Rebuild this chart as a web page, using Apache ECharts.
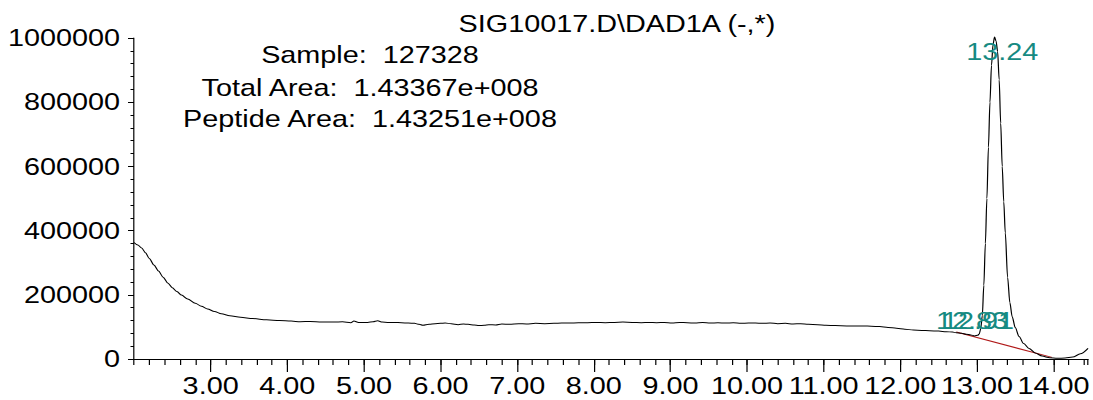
<!DOCTYPE html>
<html>
<head>
<meta charset="utf-8">
<script src="https://cdn.jsdelivr.net/npm/echarts@6.0.0/dist/echarts.min.js"></script>
<style>
html,body{margin:0;padding:0;background:#fff;overflow:hidden;}
#chart{height:400px;transform-origin:0 0;}
</style>
</head>
<body>
<div id="chart"></div>
<script>
// ---- data ----
const titleText = 'SIG10017.D\\DAD1A (-,*)';
const infoLines = ['Sample:  127328', 'Total Area:  1.43367e+008', 'Peptide Area:  1.43251e+008'];

const xTickLabels = ['3.00','4.00','5.00','6.00','7.00','8.00','9.00','10.00','11.00','12.00','13.00','14.00'];
const yTickLabels = ['0','200000','400000','600000','800000','1000000'];

const times = [
 2.00,2.05,2.10,2.15,2.20,2.26,2.32,2.38,2.44,2.50,2.56,2.62,2.70,2.80,2.88,2.96,3.05,3.14,3.25,3.39,
 3.55,3.73,3.90,4.05,4.17,4.30,4.45,4.61,4.72,4.83,4.87,4.93,5.05,5.12,5.18,5.24,5.31,5.40,5.49,5.58,
 5.66,5.72,5.77,5.85,5.93,6.00,6.06,6.14,6.23,6.30,6.36,6.44,6.50,6.57,6.63,6.72,6.80,6.90,7.02,7.12,
 7.24,7.36,7.48,7.58,7.68,7.80,7.92,8.03,8.15,8.27,8.38,8.50,8.62,8.72,8.82,8.92,9.02,9.12,9.22,9.32,
 9.42,9.52,9.62,9.72,9.82,9.92,10.02,10.11,10.20,10.30,10.40,10.50,10.60,10.70,10.80,10.92,11.03,11.15,11.30,11.42,
 11.52,11.62,11.73,11.84,11.95,12.06,12.17,12.28,12.38,12.50,12.60,12.68,12.73,12.80,12.86,12.92,12.97,13.01,13.03,13.05,
 13.07,13.09,13.11,13.13,13.15,13.17,13.19,13.21,13.23,13.25,13.27,13.29,13.31,13.33,13.35,13.37,13.40,13.43,13.46,13.50,
 13.55,13.61,13.68,13.76,13.85,13.95,14.05,14.15,14.25,14.35,14.45
];
const signal = [
 363000,355000,346000,331000,313000,293000,274000,255000,237000,222000,210000,199000,187000,174000,164000,156000,148000,141000,135000,130000,
 126000,122000,120000,118000,116000,117000,115000,115000,116000,113000,118000,114000,114000,116000,119000,115000,114000,114000,113000,112000,
 111000,108000,105000,108000,110000,111000,112000,110000,107000,109000,108000,106000,104000,105000,107000,106000,109000,108000,110000,109000,
 111000,110000,111000,112000,112000,113000,113000,114000,113000,114000,115000,114000,113000,114000,113000,114000,112000,114000,113000,112000,
 114000,112000,113000,112000,113000,111000,112000,112000,111000,112000,110000,111000,109000,110000,108000,107000,105000,104000,103000,103000,
 103000,102000,101000,98000,96000,93000,90000,89000,88000,87000,85000,84000,82000,80000,77000,75000,72000,74000,78000,95000,
 135000,230000,360000,500000,660000,800000,915000,980000,1003000,990000,958000,870000,735000,600000,490000,393000,255000,175000,132000,98000,
 70000,48000,33000,19000,9000,4000,2000,3000,6000,16000,33000
];

const baselineTimes = [12.73, 13.98];
const baselineValues = [84000, 5000];

const peakTimes = [12.83, 12.91, 13.24];
const peakHeights = [79000, 75000, 1000000];
const peakLabels = ['12.83', '12.91', '13.24'];

// ---- layout / style ----
const K = 1.2;                // horizontal stretch of the reference picture
const W = 1093 / K;
const el = document.getElementById('chart');
el.style.width = W + 'px';
el.style.transform = 'scaleX(' + K + ')';

const FONT = '"Liberation Sans", Arial, Helvetica, sans-serif';
const TEAL = '#168a82';
const labelOffsets = [[8 / K, -13], [8 / K, -14], [7 / K, 14]];

const curve = times.map((t, i) => [t, signal[i]]);
const baseline = baselineTimes.map((t, i) => [t, baselineValues[i]]);

const chart = echarts.init(el, null, { renderer: 'svg' });
chart.setOption({
  animation: false,
  backgroundColor: '#ffffff',
  grid: { left: 134 / K, right: 0, top: 38, bottom: 41, containLabel: false },
  xAxis: [
    {
      type: 'value', min: 2, max: 14.45, interval: 1,
      axisLine: { show: true, onZero: false, lineStyle: { color: '#000', width: 1 } },
      axisTick: { show: true, length: 13, lineStyle: { color: '#000', width: 1 } },
      axisLabel: {
        show: true, margin: 15, color: '#000', fontSize: 24, fontFamily: FONT,
        showMinLabel: false, showMaxLabel: false,
        formatter: function (v) {
          const s = v.toFixed(2);
          return xTickLabels.indexOf(s) >= 0 ? s : '';
        }
      },
      splitLine: { show: false }
    },
    {
      type: 'value', min: 2, max: 14.45, interval: 0.2, position: 'bottom',
      axisLine: { show: false, onZero: false },
      axisTick: { show: true, length: 6, lineStyle: { color: '#000', width: 1 } },
      axisLabel: { show: false },
      splitLine: { show: false }
    }
  ],
  yAxis: {
    type: 'value', min: 0, max: 1000000, interval: 200000,
    axisLine: { show: true, lineStyle: { color: '#000', width: 1 } },
    axisTick: { show: true, length: 6 / K, lineStyle: { color: '#000', width: 1 } },
    minorTick: { show: true, splitNumber: 5, length: 3.5 / K, lineStyle: { color: '#000', width: 1 } },
    axisLabel: {
      margin: 14 / K, color: '#000', fontSize: 24, fontFamily: FONT,
      formatter: function (v) {
        const s = String(Math.round(v));
        return yTickLabels.indexOf(s) >= 0 ? s : '';
      }
    },
    splitLine: { show: false }
  },
  graphic: [
    { type: 'text', x: 617 / K, y: 24, silent: true,
      style: { text: titleText, fill: '#000', font: '24px ' + FONT, align: 'center', verticalAlign: 'middle' } }
  ].concat(infoLines.map((s, i) => ({
      type: 'text', x: 370 / K, y: [55, 87.5, 119][i], silent: true,
      style: { text: s, fill: '#000', font: '24px ' + FONT, align: 'center', verticalAlign: 'middle' }
  }))),
  series: [
    {
      type: 'line', name: 'baseline', data: baseline, xAxisIndex: 0,
      showSymbol: false, symbol: 'none',
      lineStyle: { color: '#b01818', width: 1 }, z: 2, silent: true
    },
    {
      type: 'line', name: 'DAD1A', data: curve, xAxisIndex: 0,
      showSymbol: false, symbol: 'none', smooth: 0.3, smoothMonotone: 'x', clip: false,
      lineStyle: { color: '#000', width: 1 }, z: 3, silent: true,
      markPoint: {
        symbol: 'circle', symbolSize: 0, silent: true,
        data: peakTimes.map((t, i) => ({
          name: peakLabels[i], coord: [t, peakHeights[i]],
          label: { show: true, position: 'inside', offset: labelOffsets[i], formatter: peakLabels[i],
                   color: TEAL, fontSize: 24, fontFamily: FONT }
        }))
      }
    }
  ]
});
</script>
</body>
</html>
